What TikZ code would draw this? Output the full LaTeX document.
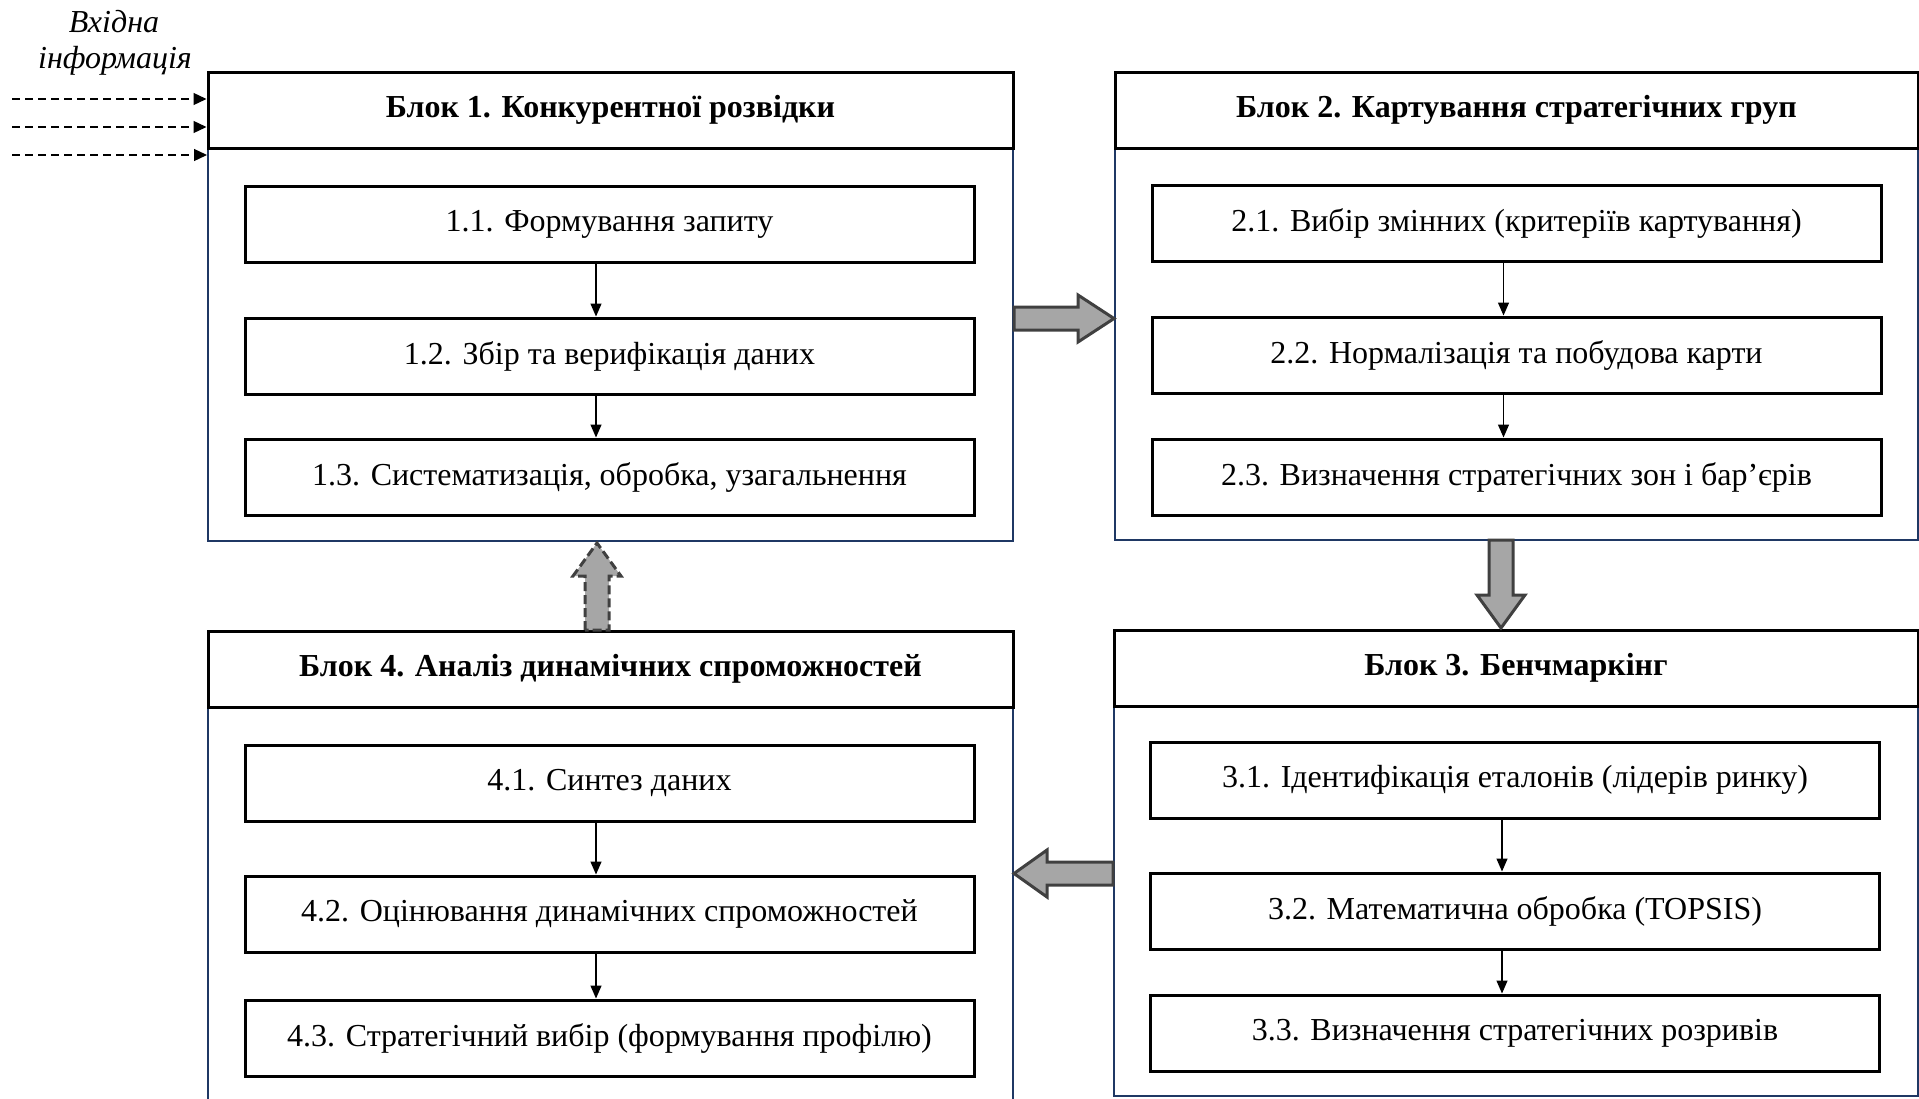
\documentclass[tikz,border=0pt]{standalone}
\usepackage{fontspec}
\setmainfont{Liberation Serif}
\usetikzlibrary{arrows.meta,calc}
\definecolor{navy}{HTML}{1F3864}
\definecolor{arrfill}{HTML}{A6A6A6}
\definecolor{arrline}{HTML}{404040}
\tikzset{
  txt/.style={font=\fontsize{32}{38}\selectfont},
  outerbox/.style={draw=navy, line width=2pt, fill=white, inner sep=0pt},
  titlebox/.style={draw=black, line width=3pt, fill=white, inner sep=0pt,
    minimum height=76pt, font=\fontsize{32}{38}\selectfont\bfseries},
  stagebox/.style={draw=black, line width=3pt, fill=white, inner sep=0pt,
    minimum width=729pt, minimum height=76pt, txt},
  flow/.style={line width=1.3pt, -{Triangle[length=13pt,width=11pt]}},
  inflow/.style={line width=1.3pt, dash pattern=on 8pt off 5pt,
    -{Triangle[length=13pt,width=12pt]}},
  blockarr/.style={fill=arrfill, draw=arrline, line width=3pt, line join=miter},
}
\begin{document}
\begin{tikzpicture}[x=1pt,y=-1pt]
\useasboundingbox (0,0) rectangle (1919,1098);
\clip (0,0) rectangle (1919,1098);

% input label
\node[font=\fontsize{32}{38}\selectfont\itshape] (inlab1) at (114,22) {Вхідна};
\node[font=\fontsize{32}{38}\selectfont\itshape] (inlab2) at (115,61) {інформація};

% ---- Block 1 ----
\node[outerbox, minimum width=805pt, minimum height=469pt] (b1) at (610.5,306.5) {};
\node[titlebox, minimum width=805pt] (t1) at (610.5,110) {Блок 1. Конкурентної розвідки};
\node[stagebox] (s11) at (609.5,224) {1.1. Формування запиту};
\node[stagebox] (s12) at (609.5,356) {1.2. Збір та верифікація даних};
\node[stagebox] (s13) at (609.5,477) {1.3. Систематизація, обробка, узагальнення};

% ---- Block 2 ----
\node[outerbox, minimum width=803pt, minimum height=468pt] (b2) at (1516.5,306) {};
\node[titlebox, minimum width=803pt] (t2) at (1516.5,110) {Блок 2. Картування стратегічних груп};
\node[stagebox] (s21) at (1516.5,223) {2.1. Вибір змінних (критеріїв картування)};
\node[stagebox] (s22) at (1516.5,355) {2.2. Нормалізація та побудова карти};
\node[stagebox] (s23) at (1516.5,477) {2.3. Визначення стратегічних зон і бар’єрів};

% ---- Block 3 ----
\node[outerbox, minimum width=804pt, minimum height=466pt] (b3) at (1516,863) {};
\node[titlebox, minimum width=804pt] (t3) at (1516,668) {Блок 3. Бенчмаркінг};
\node[stagebox] (s31) at (1515,780) {3.1. Ідентифікація еталонів (лідерів ринку)};
\node[stagebox] (s32) at (1515,911) {3.2. Математична обробка (TOPSIS)};
\node[stagebox] (s33) at (1515,1033) {3.3. Визначення стратегічних розривів};

% ---- Block 4 ----
\node[outerbox, minimum width=805pt, minimum height=490pt] (b4) at (610.5,876) {};
\node[titlebox, minimum width=805pt] (t4) at (610.5,669) {Блок 4. Аналіз динамічних спроможностей};
\node[stagebox] (s41) at (609.5,783) {4.1. Синтез даних};
\node[stagebox] (s42) at (609.5,914) {4.2. Оцінювання динамічних спроможностей};
\node[stagebox] (s43) at (609.5,1038) {4.3. Стратегічний вибір (формування профілю)};

% incoming information
\draw[inflow] (12,99) -- (t1.west |- 0,99);
\draw[inflow] (12,127) -- (t1.west |- 0,127);
\draw[inflow] (12,155) -- (b1.west |- 0,155);

% stage-to-stage links
\foreach \a/\b in {s11/s12, s12/s13, s41/s42, s42/s43}
  \draw[flow] ([xshift=-13.5pt]\a.south) -- ([xshift=-13.5pt]\b.north);
\foreach \a/\b in {s21/s22, s22/s23, s31/s32, s32/s33}
  \draw[flow] ([xshift=-13pt]\a.south) -- ([xshift=-13pt]\b.north);

% block-to-block arrows
\draw[blockarr] (b1.east |- 0,307) -- (1078,307) -- (1078,295) -- (b2.west |- 0,318.5)
  -- (1078,342) -- (1078,330) -- (b1.east |- 0,330) -- cycle;
\draw[blockarr] (1489,540) -- (1489,595) -- (1477,595) -- (1501,628)
  -- (1525,595) -- (1513,595) -- (1513,540) -- cycle;
\draw[blockarr] (b3.west |- 0,862) -- (1047,862) -- (1047,850) -- (b4.east |- 0,873.5)
  -- (1047,897) -- (1047,885) -- (b3.west |- 0,885) -- cycle;
\draw[blockarr, dash pattern=on 9pt off 4pt] (585,630) -- (585,576) -- (573,576) -- (597,543)
  -- (621,576) -- (609,576) -- (609,630) -- cycle;
\end{tikzpicture}
\end{document}
